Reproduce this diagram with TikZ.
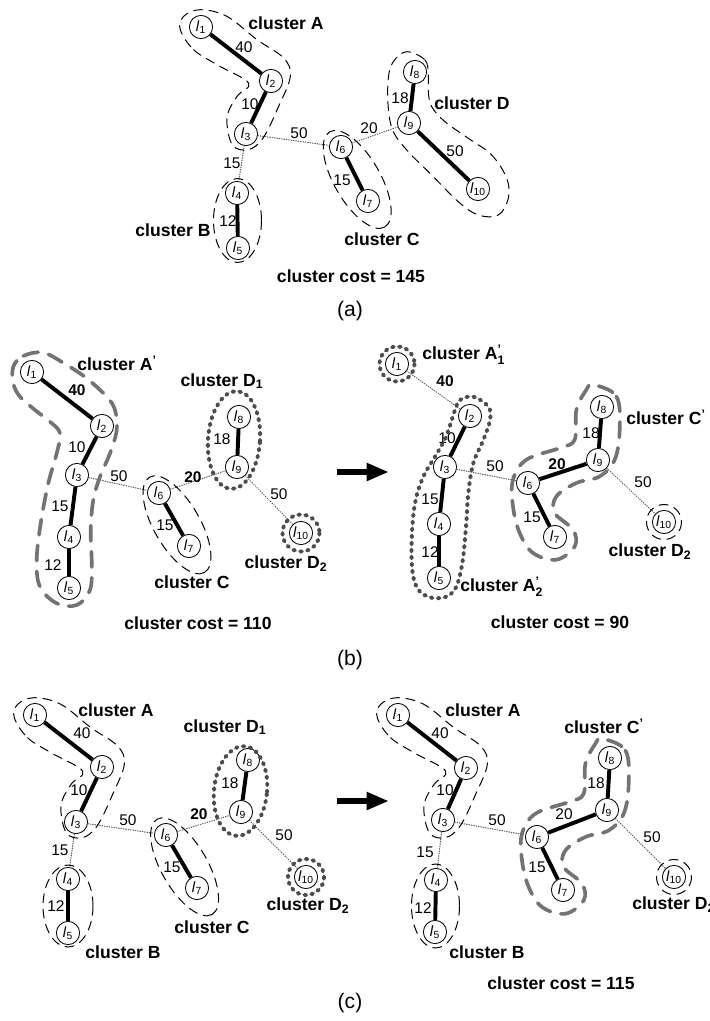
\documentclass[tikz,border=0pt]{standalone}
\usepackage{amsmath}
\usepackage{fontspec}
\setmainfont{Liberation Sans}
\usetikzlibrary{arrows.meta,calc}

\newcommand{\lnk}[1]{\textit{l}\textsubscript{#1}}
\newcommand{\prm}{$^{\text{’}}$}

\begin{document}
\begin{tikzpicture}[
  x=0.025cm,y=-0.025cm,
  line cap=round,
  vertex/.style={circle,draw,fill=white,line width=0.6pt,inner sep=0pt,
    minimum size=16.5pt,font=\fontsize{10.5}{12}\selectfont},
  heavy/.style={line width=2.8pt,line cap=butt},
  weak/.style={line width=0.8pt,draw=black!65,dash pattern=on 0.4pt off 1.3pt},
  num/.style={inner sep=0pt,font=\fontsize{11}{13}\selectfont},
  clabel/.style={inner sep=0pt,font=\fontsize{12.5}{15}\selectfont\bfseries},
  caption/.style={inner sep=0pt,font=\fontsize{15}{18}\selectfont},
  thindash/.style={line width=0.7pt,dash pattern=on 6.5pt off 4.5pt},
  greydash/.style={line width=2.6pt,draw=black!55,dash pattern=on 11pt off 7.5pt},
  dotdash/.style={line width=2.8pt,draw=black!70,dash pattern=on 1.2pt off 3.8pt},
  arrowbar/.style={line width=4.3pt,line cap=butt,-{Triangle[length=16pt,width=12pt]}},
  clusterA/.pic={
    \draw[thindash] plot[smooth cycle,tension=0.6] coordinates {
      (-20.7,2.7) (-7.4,22.7) (16,37.7) (47.6,56) (36,69.4) (26,90.7)
      (31.3,117.7) (47.3,122.7) (62.3,110.7) (77.6,79.4) (89.3,49.4)
      (82.6,31) (56,12.7) (26,-10.6) (-0.7,-17.3) (-17.4,-10.6)};
  },
  clusterCp/.pic={
    \draw[greydash] plot[smooth cycle,tension=0.6] coordinates {
      (65,-98.3) (88.4,-86.6) (91.7,-53.3) (86.7,-23.3) (71.7,-6.6)
      (48.4,0) (28.4,13.4) (26.7,30) (45,46.7) (46.7,63.4) (28.4,76.7)
      (5,70) (-8.3,50) (-15,23.4) (-15,-3.3) (-1.6,-23.3) (31.7,-35)
      (46.7,-43.3) (48.4,-73.3) (58.4,-93.3)};
  }
]
  \path[fill=white,use as bounding box] (0,0) rectangle (710,1021);

  % (a): the four starting clusters.
  \foreach \i/\x/\y in {1/201/27,2/271/81,3/246/134,4/237/193,5/238/248,
      6/341/147,7/368/201,8/415/72,9/409/123,10/478/189}
    \node[vertex] (a\i) at (\x,\y) {\lnk{\i}};
  \foreach \u/\v/\w/\x/\y in {1/2/40/244/47,2/3/10/250/104,4/5/12/228/221,
      6/7/15/342/180,8/9/18/400/98,9/10/50/455/151}
  {
    \draw[heavy] (a\u) -- (a\v);
    \node[num] (a\u-\v) at (\x,\y) {\w};
  }
  \foreach \u/\v/\w/\x/\y in {3/4/15/232/163,3/6/50/299/133,6/9/20/369/128}
  {
    \draw[weak] (a\u) -- (a\v);
    \node[num] (a\u-\v) at (\x,\y) {\w};
  }
  \pic at (a1) {clusterA};
  \coordinate (aB) at ($(a4)!.5!(a5)$);
  \draw[thindash] (aB) ellipse (24 and 42);
  \coordinate (aC) at ($(a6)!.6!(a7)$);
  \draw[thindash,rotate around={-60:(aC)}] (aC) ellipse (55 and 23);
  \draw[thindash] plot[smooth cycle,tension=0.6] coordinates {
    (406.7,51.7) (425,60) (428.3,75) (428.3,91.7) (431.7,106.7) (445,121.7)
    (468.3,138.3) (491.7,155) (506.7,178.3) (508.3,198.3) (498.3,215)
    (478.3,215) (458.3,201.7) (431.7,175) (408.3,151.7) (393.3,131.7)
    (388.3,108.3) (388.3,78.3) (393.3,61.7)};
  \node[clabel] (aA) at (286,23) {cluster A};
  \node[clabel] (aBl) at (173,230) {cluster B};
  \node[clabel] (aCl) at (382,239) {cluster C};
  \node[clabel] (aDl) at (472,103) {cluster D};
  \node[clabel] (acost) at (351,276) {cluster cost = 145};
  \node[caption] (capa) at (350,311) {(a)};

  % (b), left: A' merged, D split in two.
  \foreach \i/\x/\y in {1/32/372,2/102/426,3/77/475,4/69/537,5/69/588,
      6/159/493,7/189/546,8/239/417,9/237/467,10/301/533}
    \node[vertex] (bl\i) at (\x,\y) {\lnk{\i}};
  \foreach \u/\v/\w/\x/\y in {1/2/\textbf{40}/77/390,2/3/10/77/447,
      3/4/15/60/506,4/5/12/53/565,6/7/15/165/525,8/9/18/222/439}
  {
    \draw[heavy] (bl\u) -- (bl\v);
    \node[num] (bl\u-\v) at (\x,\y) {\w};
  }
  \foreach \u/\v/\w/\x/\y in {3/6/50/119/476,6/9/\textbf{20}/193/477,
      9/10/50/279/494}
  {
    \draw[weak] (bl\u) -- (bl\v);
    \node[num] (bl\u-\v) at (\x,\y) {\w};
  }
  \draw[greydash] plot[smooth cycle,tension=0.6] coordinates {
    (13.3,366.7) (23.3,356) (43.3,352.7) (66.7,365) (86.7,378.3)
    (106.7,396.7) (115,410) (116.7,430) (110,453.3) (100,476.7) (93.3,500)
    (90.7,530) (91.7,563.3) (90,590) (76.7,605) (56.7,603.3) (40,586.7)
    (36.7,560) (40.7,523.3) (48.3,483.3) (56.7,453.3) (60,433.3)
    (50,421.7) (35,410) (20,396.7) (13.3,383.3)};
  \coordinate (blC) at ($(bl6)!.6!(bl7)$);
  \draw[thindash,rotate around={-60:(blC)}] (blC) ellipse (55 and 23);
  \coordinate (blD) at ($(bl8)!.5!(bl9)+(-4,-2)$);
  \draw[dotdash,rotate around={-4:(blD)}] (blD) ellipse (26 and 49);
  \draw[dotdash] (bl10) circle (18.5);
  \node[clabel,anchor=west] (blAl) at (77,363) {cluster A\prm};
  \node[clabel] (blD1) at (222,381) {cluster D\textsubscript{1}};
  \node[clabel] (blD2) at (286,564) {cluster D\textsubscript{2}};
  \node[clabel] (blCl) at (192,582) {cluster C};
  \node[clabel] (blcost) at (198,623) {cluster cost = 110};

  \coordinate (bfrom) at (337,472);
  \coordinate (bto) at (389,472);
  \draw[arrowbar] (bfrom) -- (bto);

  % (b), right: A' split, C grows into C'.
  \foreach \i/\x/\y in {1/397/364,2/470/416,3/445/467,4/439/524,5/439/578,
      6/528/483,7/555/537,8/602/407,9/598/460,10/664/522}
    \node[vertex] (br\i) at (\x,\y) {\lnk{\i}};
  \foreach \u/\v/\w/\x/\y in {2/3/10/447/438,3/4/15/430/499,4/5/12/430/552,
      6/7/15/532/517,6/9/\textbf{20}/557/464,8/9/18/591/433}
  {
    \draw[heavy] (br\u) -- (br\v);
    \node[num] (br\u-\v) at (\x,\y) {\w};
  }
  \foreach \u/\v/\w/\x/\y in {1/2/\textbf{40}/445/381,3/6/50/495/466,
      9/10/50/643/482}
  {
    \draw[weak] (br\u) -- (br\v);
    \node[num] (br\u-\v) at (\x,\y) {\w};
  }
  \draw[dotdash] (br1) circle (17.5);
  \draw[dotdash] plot[smooth cycle,tension=0.6] coordinates {
    (455,410) (460,400) (473.3,396.7) (488.3,406.7) (490,420) (483.3,440)
    (473.3,463.3) (468.3,493.3) (466,526.7) (461.7,566.7) (453.3,591.7)
    (436.7,598.3) (420,591.7) (412.7,573.3) (411.7,540) (415,503.3)
    (423.3,476.7) (435,456.7) (446,436.7)};
  \pic at (br6) {clusterCp};
  \draw[thindash] (br10) circle (17.5);
  \node[clabel,anchor=west] (brA1) at (422,355) {cluster A$^{\text{’}}_{\text{1}}$};
  \node[clabel,anchor=west] (brCl) at (626,417) {cluster C\prm};
  \node[clabel] (brD2) at (650,552) {cluster D\textsubscript{2}};
  \node[clabel,anchor=west] (brA2) at (460,587) {cluster A$^{\text{’}}_{\text{2}}$};
  \node[clabel] (brcost) at (560,622) {cluster cost = 90};
  \node[caption] (capb) at (350,660) {(b)};

  % (c), left: A and B kept, D split in two.
  \foreach \i/\x/\y in {1/35/715,2/102/767,3/76/822,4/68/879,5/68/933,
      6/166/835,7/197/888,8/248/760,9/241/812,10/306/877}
    \node[vertex] (cl\i) at (\x,\y) {\lnk{\i}};
  \foreach \u/\v/\w/\x/\y in {1/2/40/82/733,2/3/10/79/790,4/5/12/56/906,
      6/7/15/172/867,8/9/18/230/783}
  {
    \draw[heavy] (cl\u) -- (cl\v);
    \node[num] (cl\u-\v) at (\x,\y) {\w};
  }
  \foreach \u/\v/\w/\x/\y in {3/4/15/60/850,3/6/50/128/820,
      6/9/\textbf{20}/199/814,9/10/50/284/835}
  {
    \draw[weak] (cl\u) -- (cl\v);
    \node[num] (cl\u-\v) at (\x,\y) {\w};
  }
  \pic at (cl1) {clusterA};
  \coordinate (clB) at ($(cl4)!.5!(cl5)$);
  \draw[thindash] (clB) ellipse (25 and 41);
  \coordinate (clC) at ($(cl6)!.6!(cl7)$);
  \draw[thindash,rotate around={-60:(clC)}] (clC) ellipse (55 and 23);
  \coordinate (clD) at ($(cl8)!.5!(cl9)+(-4,5)$);
  \draw[dotdash,rotate around={-6:(clD)}] (clD) ellipse (26.5 and 45);
  \draw[dotdash] (cl10) circle (18);
  \node[clabel] (clA) at (116,710) {cluster A};
  \node[clabel] (clD1) at (225,727) {cluster D\textsubscript{1}};
  \node[clabel] (clD2) at (308,906) {cluster D\textsubscript{2}};
  \node[clabel] (clCl) at (212,927) {cluster C};
  \node[clabel] (clBl) at (123,952) {cluster B};

  \coordinate (cfrom) at (337,801);
  \coordinate (cto) at (389,801);
  \draw[arrowbar] (cfrom) -- (cto);

  % (c), right: C takes in D1 to give C'.
  \foreach \i/\x/\y in {1/398/715,2/466/768,3/443/820,4/436/880,5/435/932,
      6/537/837,7/563/890,8/610/758,9/607/810,10/674/877}
    \node[vertex] (cr\i) at (\x,\y) {\lnk{\i}};
  \foreach \u/\v/\w/\x/\y in {1/2/40/440/733,2/3/10/445/790,4/5/12/423/908,
      6/7/15/537/867,6/9/20/564/814,8/9/18/596/783}
  {
    \draw[heavy] (cr\u) -- (cr\v);
    \node[num] (cr\u-\v) at (\x,\y) {\w};
  }
  \foreach \u/\v/\w/\x/\y in {3/4/15/425/852,3/6/50/497/820,9/10/50/652/837}
  {
    \draw[weak] (cr\u) -- (cr\v);
    \node[num] (cr\u-\v) at (\x,\y) {\w};
  }
  \pic at (cr1) {clusterA};
  \coordinate (crB) at ($(cr4)!.5!(cr5)$);
  \draw[thindash] (crB) ellipse (24 and 42);
  \pic at (cr6) {clusterCp};
  \draw[thindash] (cr10) circle (17.5);
  \node[clabel] (crA) at (483,710) {cluster A};
  \node[clabel] (crCl) at (604,726) {cluster C\prm};
  \node[clabel,anchor=west] (crD2) at (632,905) {cluster D\textsubscript{2}};
  \node[clabel] (crBl) at (487,952) {cluster B};
  \node[clabel] (crcost) at (561,983) {cluster cost = 115};
  \node[caption] (capc) at (350,1003) {(c)};
\end{tikzpicture}
\end{document}
